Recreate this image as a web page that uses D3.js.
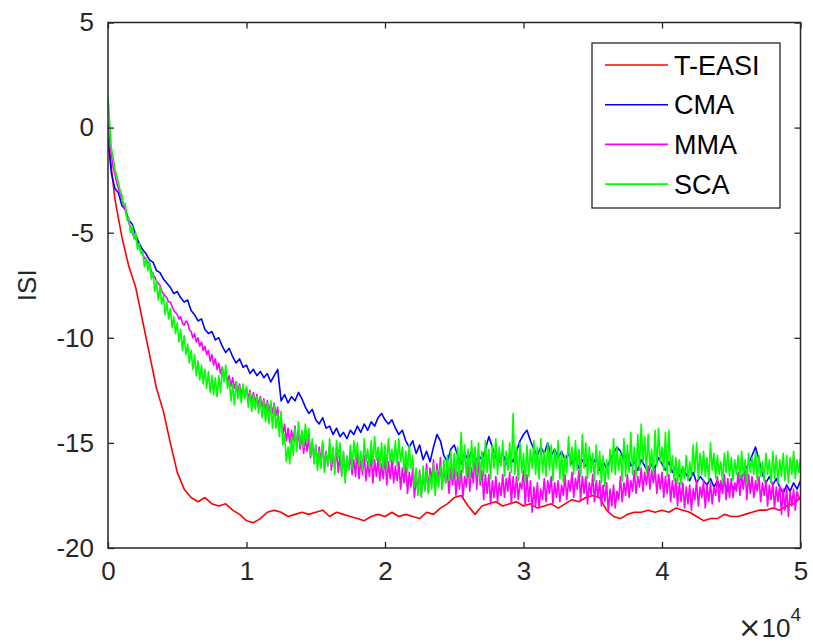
<!DOCTYPE html>
<html>
<head>
<meta charset="utf-8">
<script src="https://cdn.jsdelivr.net/npm/d3@7/dist/d3.min.js"></script>
<style>
  html, body { margin: 0; padding: 0; background: #fff; }
  svg { display: block; font-family: "Liberation Sans", Arial, sans-serif; }
</style>
</head>
<body>
<svg id="chart" width="813" height="644"></svg>
<script>
// ISI convergence curves, sampled per iteration step
const seriesNames = ["T-EASI", "CMA", "MMA", "SCA"];
const seriesColors = ["#ff0000", "#0000ff", "#ff00ff", "#00ff00"];

const teasiStep = 500;
const teasi = [
  -0.5, -3.4, -5.2, -6.6, -7.6, -9.2, -10.8, -12.4, -13.5, -15.0,
  -16.4, -17.2, -17.6, -17.8, -17.6, -17.9, -18.0, -17.9, -18.2, -18.4,
  -18.7, -18.8, -18.6, -18.3, -18.2, -18.3, -18.5, -18.4, -18.3, -18.4,
  -18.3, -18.2, -18.5, -18.3, -18.4, -18.5, -18.6, -18.7, -18.5, -18.4,
  -18.5, -18.3, -18.5, -18.4, -18.5, -18.6, -18.3, -18.4, -18.1, -17.9,
  -17.6, -17.5, -18.0, -18.4, -18.0, -17.9, -17.8, -18.0, -17.9, -17.8,
  -18.0, -17.9, -18.1, -18.0, -17.9, -18.1, -17.9, -17.7, -17.8, -17.6,
  -17.5, -17.6, -18.2, -18.5, -18.6, -18.4, -18.3, -18.3, -18.2, -18.3,
  -18.2, -18.3, -18.1, -18.2, -18.3, -18.5, -18.7, -18.6, -18.6, -18.4,
  -18.5, -18.5, -18.4, -18.3, -18.2, -18.2, -18.1, -18.2, -18.0, -17.9,
  -17.6
];

const cmaStep = 250;
const cma = [
  -0.5, -2.2, -2.9, -3.1, -3.7, -3.9, -4.4, -4.6, -5.1, -5.5,
  -5.8, -6.0, -6.3, -6.4, -6.8, -6.9, -7.2, -7.4, -7.6, -7.9,
  -7.8, -8.1, -8.3, -8.2, -8.7, -8.9, -9.2, -9.1, -9.6, -9.8,
  -9.7, -10.1, -10.0, -10.4, -10.7, -10.5, -10.9, -11.2, -11.0, -11.4,
  -11.3, -11.7, -11.5, -11.8, -11.6, -11.9, -11.7, -12.1, -11.8, -11.5,
  -13.0, -12.7, -13.1, -12.8, -13.0, -12.6, -12.9, -13.3, -13.6, -13.4,
  -13.9, -14.1, -13.8, -14.3, -14.2, -14.6, -14.3, -14.7, -14.5, -14.8,
  -14.4, -14.6, -14.2, -14.5, -14.1, -14.4, -14.0, -14.2, -13.8, -13.6,
  -13.9, -14.1, -13.9, -14.3, -14.6, -14.4, -14.9, -15.2, -14.9, -15.5,
  -15.1, -15.8, -15.4, -15.9, -15.2, -14.6, -14.9, -15.6, -15.9, -15.3,
  -15.1, -15.6, -16.0, -15.5, -15.8, -15.4, -15.9, -15.6, -15.8, -15.3,
  -14.7, -15.2, -15.7, -15.9, -15.5, -16.0, -15.6, -15.9, -15.4, -14.9,
  -14.6, -14.4, -14.9, -15.3, -15.6, -15.2, -15.5, -15.0, -15.6, -15.3,
  -15.7, -15.4, -15.8, -15.5, -16.0, -15.7, -16.2, -15.8, -16.1, -15.6,
  -16.0, -15.7, -16.3, -15.9, -16.2, -15.8, -15.5, -15.2, -15.4, -15.8,
  -15.5, -16.1, -15.9, -16.3, -15.8, -16.1, -16.4, -16.0, -16.2, -15.7,
  -16.0, -16.3, -15.9, -16.4, -16.1, -16.6, -16.2, -16.5, -16.8, -16.4,
  -16.9, -16.6, -16.8, -17.0, -16.7, -17.1, -16.8, -17.2, -16.9, -17.3,
  -17.0, -17.2, -16.9, -16.6, -16.3, -16.0, -15.6, -15.2, -15.8, -16.5,
  -16.9, -16.6, -17.0, -16.7, -17.1, -17.4, -17.0, -17.3, -16.9, -17.2,
  -16.8
];

// MMA and SCA are sampled twice as densely (one row = 1000 iterations)
const mmaStep = 125;
const mma = [
  0.3, -0.8, -1.3, -1.9, -2.2, -2.6, -2.9, -3.2,
  -3.4, -3.7, -3.9, -4.3, -4.5, -4.8, -5.0, -5.2,
  -5.3, -5.5, -5.6, -5.9, -6.0, -6.2, -6.3, -6.4,
  -6.5, -6.8, -7.0, -7.1, -7.3, -7.4, -7.5, -7.8,
  -7.9, -8.0, -8.1, -8.3, -8.3, -8.5, -8.7, -8.8,
  -8.9, -9.1, -9.0, -9.3, -9.4, -9.2, -9.3, -9.6,
  -9.7, -10.0, -9.8, -10.2, -10.0, -10.4, -10.2, -10.6,
  -10.4, -10.8, -10.6, -11.1, -10.8, -11.3, -11.0, -11.5,
  -11.2, -11.7, -11.4, -11.9, -11.6, -12.1, -11.8, -12.3,
  -11.9, -12.4, -12.1, -12.6, -12.2, -12.7, -12.3, -12.8,
  -12.4, -12.9, -12.5, -13.0, -12.6, -13.1, -12.7, -13.2,
  -12.8, -13.3, -12.9, -13.4, -13.0, -13.5, -13.1, -13.6,
  -13.1, -13.7, -13.3, -14.3, -13.9, -14.6, -14.1, -14.9,
  -14.3, -15.0, -14.4, -14.9, -14.2, -15.2, -14.5, -15.3,
  -14.6, -15.5, -14.8, -15.4, -14.7, -15.7, -15.0, -15.8,
  -15.1, -16.0, -15.2, -15.9, -15.0, -16.2, -15.4, -16.1,
  -15.2, -16.3, -15.5, -16.2, -15.3, -16.4, -15.6, -16.5,
  -15.5, -16.6, -15.7, -16.3, -15.6, -16.5, -15.8, -16.6,
  -15.4, -16.7, -15.8, -16.5, -15.6, -16.8, -15.9, -16.6,
  -15.5, -16.9, -15.8, -16.6, -15.7, -16.8, -16.0, -16.7,
  -15.6, -17.0, -15.9, -16.7, -15.8, -16.9, -16.1, -16.8,
  -15.9, -17.2, -16.2, -16.9, -16.0, -17.4, -16.4, -17.1,
  -16.2, -17.6, -16.6, -17.3, -16.3, -17.5, -16.5, -17.2,
  -16.0, -17.3, -16.2, -16.8, -15.8, -17.1, -16.0, -16.9,
  -15.7, -17.2, -16.1, -16.9, -16.3, -17.4, -16.2, -17.0,
  -16.2, -17.5, -16.4, -17.2, -16.3, -17.6, -16.6, -17.1,
  -15.9, -17.3, -16.2, -16.9, -15.6, -17.2, -15.7, -17.0,
  -16.3, -17.7, -16.5, -17.4, -16.5, -17.9, -16.8, -17.6,
  -16.6, -17.8, -16.9, -17.5, -16.5, -17.6, -16.7, -17.3,
  -16.4, -17.9, -16.6, -17.6, -16.6, -17.7, -16.9, -17.2,
  -16.3, -18.0, -16.5, -17.8, -16.8, -18.3, -17.1, -18.0,
  -16.9, -18.1, -17.2, -17.7, -16.7, -17.8, -16.8, -17.4,
  -16.6, -17.9, -16.9, -17.6, -16.8, -17.8, -17.0, -17.5,
  -16.5, -17.7, -16.8, -17.3, -16.4, -17.6, -16.7, -17.2,
  -16.3, -17.7, -16.6, -17.4, -16.6, -17.9, -16.9, -17.5,
  -16.5, -17.8, -16.8, -17.6, -16.8, -18.0, -17.0, -17.8,
  -16.9, -18.3, -17.2, -18.0, -17.0, -18.1, -17.3, -17.7,
  -16.6, -17.8, -16.9, -17.5, -16.5, -17.6, -16.8, -17.3,
  -16.3, -17.4, -16.6, -17.1, -16.2, -17.3, -16.4, -17.0,
  -16.1, -17.2, -16.3, -16.9, -16.2, -17.4, -16.5, -17.2,
  -16.4, -17.6, -16.6, -17.4, -16.5, -17.8, -16.8, -17.6,
  -16.7, -18.0, -16.9, -17.8, -16.9, -18.1, -17.1, -17.9,
  -17.0, -18.2, -17.2, -17.7, -16.8, -18.0, -17.1, -17.6,
  -16.8, -18.1, -17.0, -17.8, -16.9, -17.9, -17.1, -17.5,
  -16.6, -17.8, -16.8, -17.4, -16.5, -17.7, -16.7, -17.6,
  -16.7, -17.6, -16.9, -17.3, -16.4, -17.5, -16.6, -17.2,
  -16.3, -17.7, -16.5, -17.4, -16.6, -17.6, -16.8, -17.3,
  -16.6, -17.8, -16.9, -17.5, -16.8, -18.0, -17.0, -17.7,
  -16.9, -18.1, -17.1, -17.8, -17.0, -18.4, -17.2, -18.2,
  -17.1, -18.5, -17.3, -18.0, -17.2, -18.2, -17.3, -17.6,
  -17.6
];

const scaStep = 125;
const sca = [
  1.5, 0.2, -1.0, -1.4, -2.0, -2.3, -2.6, -3.0,
  -3.2, -3.7, -3.6, -4.4, -4.3, -5.0, -4.7, -5.3,
  -5.0, -5.8, -5.5, -6.0, -5.9, -6.6, -6.2, -6.8,
  -6.4, -7.2, -6.9, -7.8, -7.3, -8.2, -7.6, -8.4,
  -8.0, -8.9, -8.3, -9.1, -8.6, -9.5, -9.0, -9.8,
  -9.3, -10.2, -9.6, -10.6, -9.9, -10.8, -10.3, -11.2,
  -10.6, -11.5, -10.8, -11.8, -11.1, -12.0, -11.3, -12.2,
  -11.5, -12.4, -11.6, -12.6, -11.8, -12.7, -11.9, -12.8,
  -11.8, -12.6, -11.4, -12.1, -11.3, -12.4, -12.0, -13.0,
  -12.2, -13.2, -12.1, -12.9, -12.3, -13.1, -12.2, -12.9,
  -12.3, -13.3, -12.6, -13.5, -12.7, -13.4, -12.8, -13.6,
  -12.9, -13.8, -13.0, -14.0, -13.1, -14.1, -13.0, -14.3,
  -13.2, -14.3, -13.6, -14.7, -13.5, -15.1, -14.6, -15.9,
  -15.2, -16.0, -14.7, -15.6, -14.3, -15.4, -14.0, -15.1,
  -14.4, -15.2, -14.1, -14.9, -14.3, -15.6, -14.8, -16.0,
  -15.1, -16.3, -15.4, -16.2, -14.9, -16.4, -15.5, -16.1,
  -14.8, -16.0, -15.2, -16.5, -14.9, -15.7, -15.0, -16.6,
  -15.4, -16.9, -15.6, -16.3, -15.1, -16.2, -14.9, -15.8,
  -15.0, -16.1, -15.4, -16.3, -14.8, -15.9, -15.3, -16.2,
  -14.9, -16.0, -14.7, -15.8, -15.2, -16.1, -15.0, -16.3,
  -15.1, -16.2, -14.8, -15.9, -15.3, -16.0, -14.9, -16.1,
  -14.8, -15.9, -15.2, -16.3, -15.4, -16.4, -15.1, -16.2,
  -15.6, -17.1, -16.2, -17.5, -16.4, -17.6, -16.1, -17.3,
  -16.3, -17.4, -16.5, -17.2, -16.0, -17.5, -16.3, -17.1,
  -16.1, -17.2, -15.8, -16.9, -15.6, -16.8, -15.4, -16.7,
  -15.5, -16.6, -15.2, -16.8, -14.5, -16.4, -15.1, -16.6,
  -15.3, -16.7, -14.9, -16.3, -15.2, -16.5, -15.0, -16.8,
  -15.4, -16.6, -14.9, -16.4, -15.3, -16.7, -15.1, -16.2,
  -14.8, -16.5, -15.2, -16.1, -14.9, -16.6, -15.4, -16.3,
  -15.0, -16.4, -13.6, -16.5, -15.2, -16.8, -15.0, -16.4,
  -15.5, -16.9, -15.1, -16.6, -15.3, -16.2, -14.9, -16.5,
  -15.2, -16.7, -14.8, -16.4, -15.4, -16.6, -15.0, -16.3,
  -15.1, -16.8, -15.3, -16.2, -14.9, -16.7, -15.4, -16.9,
  -15.6, -16.4, -14.7, -16.1, -15.2, -16.5, -14.9, -16.3,
  -15.3, -16.6, -14.6, -16.2, -15.0, -16.7, -15.2, -16.4,
  -15.5, -16.8, -15.1, -16.5, -15.4, -16.9, -15.6, -17.1,
  -15.8, -16.7, -15.3, -16.4, -14.8, -16.5, -15.2, -16.3,
  -15.5, -16.8, -14.8, -16.6, -15.1, -16.4, -14.5, -16.5,
  -15.2, -16.6, -14.6, -16.3, -14.1, -15.9, -14.7, -16.4,
  -14.6, -16.2, -15.3, -16.5, -14.4, -16.1, -14.3, -15.9,
  -15.2, -16.3, -14.5, -16.6, -14.4, -16.4, -15.6, -16.8,
  -15.7, -16.9, -15.8, -17.0, -16.1, -16.7, -15.6, -16.8,
  -15.9, -16.6, -15.1, -16.4, -15.0, -16.7, -15.5, -16.5,
  -15.4, -16.6, -15.7, -16.8, -15.0, -16.3, -15.5, -16.7,
  -15.6, -16.5, -15.9, -16.9, -15.5, -16.4, -15.4, -16.6,
  -15.7, -16.8, -15.8, -16.5, -15.6, -16.7, -15.4, -16.6,
  -15.8, -16.9, -15.5, -16.4, -15.7, -16.5, -15.4, -16.8,
  -15.6, -16.6, -15.9, -16.8, -15.5, -16.5, -15.8, -16.9,
  -15.4, -16.7, -15.6, -16.9, -15.8, -16.6, -15.5, -16.8,
  -15.6, -16.9, -15.7, -16.5, -15.4, -16.7, -15.8, -16.4,
  -15.7
];

const xTicks = [0, 10000, 20000, 30000, 40000, 50000];
const xTickLabels = ["0", "1", "2", "3", "4", "5"];
const yTicks = [-20, -15, -10, -5, 0, 5];
const yTickLabels = ["-20", "-15", "-10", "-5", "0", "5"];
const yLabel = "ISI";

const svg = d3.select("#chart");
const plot = { left: 108, right: 800.5, top: 22.5, bottom: 548 };
const axisColor = "#262626";

const x = d3.scaleLinear().domain([0, 50000]).range([plot.left, plot.right]);
const y = d3.scaleLinear().domain([-20, 5]).range([plot.bottom, plot.top]);

const toPoints = (vals, step) => vals.map((v, i) => [i * step, v]);
const series = [
  { name: seriesNames[0], color: seriesColors[0], pts: toPoints(teasi, teasiStep) },
  { name: seriesNames[1], color: seriesColors[1], pts: toPoints(cma, cmaStep) },
  { name: seriesNames[2], color: seriesColors[2], pts: toPoints(mma, mmaStep) },
  { name: seriesNames[3], color: seriesColors[3], pts: toPoints(sca, scaStep) }
];

svg.append("defs").append("clipPath").attr("id", "clip")
  .append("rect")
  .attr("x", plot.left).attr("y", plot.top)
  .attr("width", plot.right - plot.left).attr("height", plot.bottom - plot.top);

const line = d3.line().x(d => x(d[0])).y(d => y(d[1]));

const lines = svg.append("g").attr("clip-path", "url(#clip)");
series.forEach(s => {
  lines.append("path")
    .datum(s.pts)
    .attr("d", line)
    .attr("fill", "none")
    .attr("stroke", s.color)
    .attr("stroke-width", 1.6)
    .attr("stroke-linejoin", "round");
});

// axes with inward ticks on all four sides
const tickLen = 6;
const fontSize = 26;
function styleAxis(g) {
  g.select(".domain").remove();
  g.selectAll(".tick line").attr("stroke", axisColor).attr("stroke-width", 1.3);
  g.selectAll(".tick text").attr("fill", axisColor)
    .style("font-size", fontSize + "px")
    .style("font-family", "'Liberation Sans', Arial, sans-serif");
}

svg.append("g")
  .attr("transform", `translate(0,${plot.bottom})`)
  .call(d3.axisBottom(x).tickValues(xTicks).tickSize(-tickLen).tickPadding(14)
    .tickFormat((d, i) => xTickLabels[i]))
  .call(styleAxis);

svg.append("g")
  .attr("transform", `translate(0,${plot.top})`)
  .call(d3.axisTop(x).tickValues(xTicks).tickSize(-tickLen).tickFormat(""))
  .call(styleAxis);

svg.append("g")
  .attr("transform", `translate(${plot.left},0)`)
  .call(d3.axisLeft(y).tickValues(yTicks).tickSize(-tickLen).tickPadding(14)
    .tickFormat((d, i) => yTickLabels[i]))
  .call(styleAxis);

svg.append("g")
  .attr("transform", `translate(${plot.right},0)`)
  .call(d3.axisRight(y).tickValues(yTicks).tickSize(-tickLen).tickFormat(""))
  .call(styleAxis);

// frame
svg.append("rect")
  .attr("x", plot.left).attr("y", plot.top)
  .attr("width", plot.right - plot.left).attr("height", plot.bottom - plot.top)
  .attr("fill", "none").attr("stroke", axisColor).attr("stroke-width", 1.5);

// y-axis title
svg.append("text")
  .attr("transform", `translate(36,${(plot.top + plot.bottom) / 2}) rotate(-90)`)
  .attr("text-anchor", "middle")
  .attr("fill", axisColor)
  .style("font-size", fontSize + "px")
  .text(yLabel);

// exponent marker for the x axis
const expo = svg.append("text")
  .attr("x", 801).attr("y", 637)
  .attr("text-anchor", "end")
  .attr("fill", axisColor)
  .style("font-size", fontSize + "px");
expo.append("tspan").style("font-family", "'DejaVu Sans', sans-serif").style("font-size", "28px").text("\u00d7");
expo.append("tspan").text("10");
expo.append("tspan").attr("dy", -16).style("font-size", "19px").text("4");

// legend
const legend = svg.append("g");
legend.append("rect")
  .attr("x", 592).attr("y", 43).attr("width", 188).attr("height", 165)
  .attr("fill", "#fff").attr("stroke", axisColor).attr("stroke-width", 1.3);
series.forEach((s, i) => {
  const cy = 65 + i * 39.7;
  legend.append("line")
    .attr("x1", 605).attr("x2", 668).attr("y1", cy).attr("y2", cy)
    .attr("stroke", s.color).attr("stroke-width", 1.6);
  legend.append("text")
    .attr("x", 674).attr("y", cy)
    .attr("dy", "0.36em")
    .attr("fill", "#000")
    .style("font-size", "27px")
    .text(s.name);
});
</script>
</body>
</html>
